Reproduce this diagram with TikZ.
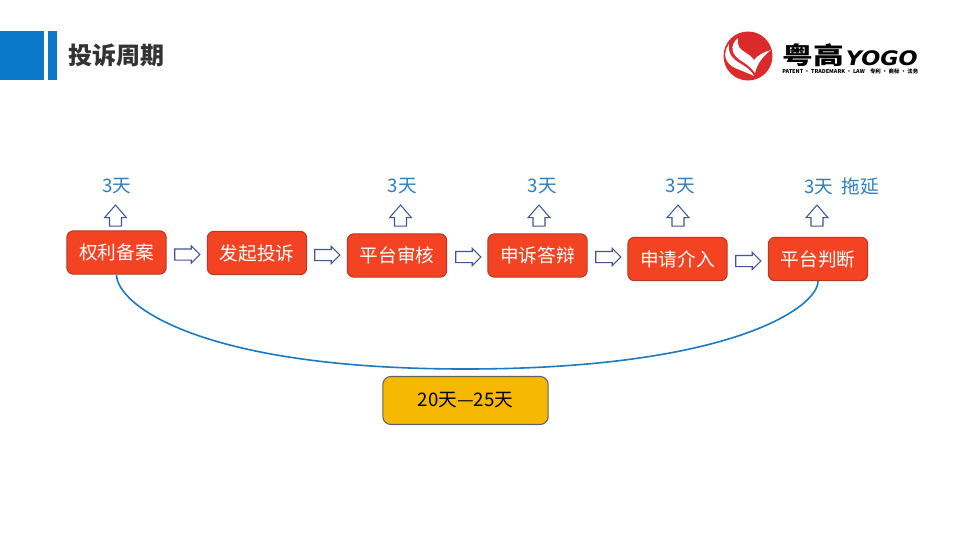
\documentclass[tikz,border=0pt]{standalone}
\usepackage{fontspec}
\setmainfont{Noto Sans CJK SC}
\newfontfamily\logolat{DejaVu Sans}
\usetikzlibrary{shapes.arrows}
\newcommand{\lowtext}[1]{\raisebox{-0.7pt}{#1}}
\definecolor{barblue}{HTML}{0B78C9}
\definecolor{boxred}{HTML}{F34323}
\definecolor{boxedge}{HTML}{B83A22}
\definecolor{lblblue}{HTML}{2F7FBF}
\definecolor{arrowedge}{HTML}{44549C}
\definecolor{curveblue}{HTML}{1B7AC2}
\definecolor{goldbox}{HTML}{F6B800}
\definecolor{goldedge}{HTML}{5F6468}
\definecolor{logored}{HTML}{DB2A2C}
\tikzset{
  x=0.75pt,y=-0.75pt,
  stagebox/.style={draw=boxedge,line width=0.8pt,fill=boxred,rounded corners=5pt,text=white,minimum width=74.5pt,minimum height=32.5pt,inner sep=0pt,font=\fontsize{14pt}{16pt}\selectfont},
  totalbox/.style={draw=goldedge,line width=0.8pt,fill=goldbox,rounded corners=6pt,text=black,minimum width=124pt,minimum height=36pt,inner sep=0pt,font=\fontsize{14pt}{16pt}\selectfont},
  daylabel/.style={text=lblblue,inner sep=0pt,font=\fontsize{14pt}{16pt}\selectfont},
  flowarrow/.style={draw=arrowedge,fill=white,line width=0.8pt,single arrow,single arrow head extend=2.25pt,single arrow tip angle=90,minimum height=18.75pt,minimum width=12pt,inner xsep=0pt,inner ysep=3.75pt},
  uparrow/.style={draw=arrowedge,fill=white,line width=0.8pt,single arrow,rotate=90,single arrow head extend=3.75pt,single arrow tip angle=82,minimum height=15.75pt,minimum width=15.75pt,inner xsep=0pt,inner ysep=4.1pt},
  span/.style={draw=curveblue,line width=1.2pt},
}
\begin{document}
\begin{tikzpicture}
\useasboundingbox (0,0) rectangle (960,540);
\fill[white] (0,0) rectangle (960,540);
% header
\fill[barblue] (0,31) rectangle (44,80);
\fill[barblue] (48,31) rectangle (57,80);
\node[anchor=west,inner sep=0pt,text=black!80,font=\fontsize{18pt}{20pt}\selectfont\bfseries] (title) at (68,55) {投诉周期};
% logo
\fill[logored] (748,56) circle[radius=24.5];
\fill[white] (738,38) .. controls (729,46) and (731,55) .. (743,62) .. controls (748,65) and (752,69) .. (755,73) .. controls (757,64) and (763,56) .. (771,50) .. controls (764,52) and (758,55) .. (754,60) .. controls (749,53) and (742,52) .. (739,47) .. controls (738,44) and (737,41) .. (738,38) -- cycle;
\fill[white] (729,44) .. controls (722,54) and (725,63) .. (735,68) .. controls (742,71) and (748,73) .. (754,76) .. controls (750,68) and (742,65) .. (735,60) .. controls (730,56) and (728,50) .. (729,44) -- cycle;
\node[anchor=west,inner sep=0pt,text=black,xscale=1.28,font=\fontsize{18pt}{18pt}\selectfont\bfseries] (logocn) at (782,55) {粤高};
\node[anchor=east,inner sep=0pt,text=black,xscale=1.12,font=\logolat\fontsize{15pt}{15pt}\selectfont\bfseries\itshape] (logoen) at (918,58) {YOGO};
\node[anchor=west,inner sep=0pt,text=black,font=\fontsize{4.05pt}{4.5pt}\selectfont\bfseries] (logosub) at (782,71.5) {PATENT · TRADEMARK · LAW\hspace{3pt} 专利 · 商标 · 法务};
% stages
\node[stagebox] (s1) at (116.5,252.5) {\lowtext{权利备案}};
\node[stagebox] (s2) at (257,253) {\lowtext{发起投诉}};
\node[stagebox] (s3) at (397,255.5) {\lowtext{平台审核}};
\node[stagebox] (s4) at (537.5,255.5) {\lowtext{申诉答辩}};
\node[stagebox] (s5) at (677.5,259) {\lowtext{申请介入}};
\node[stagebox] (s6) at (818,259) {\lowtext{平台判断}};
% flow arrows
\node[flowarrow] (f1) at (184.5,254.5) {};
\node[flowarrow] (f2) at (324.5,255) {};
\node[flowarrow] (f3) at (465.5,257) {};
\node[flowarrow] (f4) at (605.5,257) {};
\node[flowarrow] (f5) at (745.5,261) {};
% up arrows
\node[uparrow] (u1) at (115.5,219) {};
\node[uparrow] (u3) at (400.5,219) {};
\node[uparrow] (u4) at (539,219) {};
\node[uparrow] (u5) at (678,219) {};
\node[uparrow] (u6) at (817,219) {};
% labels
\node[daylabel] (l1) at (117,186.5) {3天};
\node[daylabel] (l3) at (402.5,186.5) {3天};
\node[daylabel] (l4) at (542.5,186.5) {3天};
\node[daylabel] (l5) at (680.5,186.5) {3天};
\node[daylabel,anchor=west] (l6) at (804,186.5) {3天\hspace{6.5pt}拖延};
% total
\node[totalbox] (t) at (465.5,400.5) {\lowtext{20天—25天}};
\coordinate (low) at (465,369);
\draw[span] (s1.south) .. controls (117,305) and (200,369) .. (low) .. controls (732,369) and (818,307) .. (s6.south);
\end{tikzpicture}
\end{document}
